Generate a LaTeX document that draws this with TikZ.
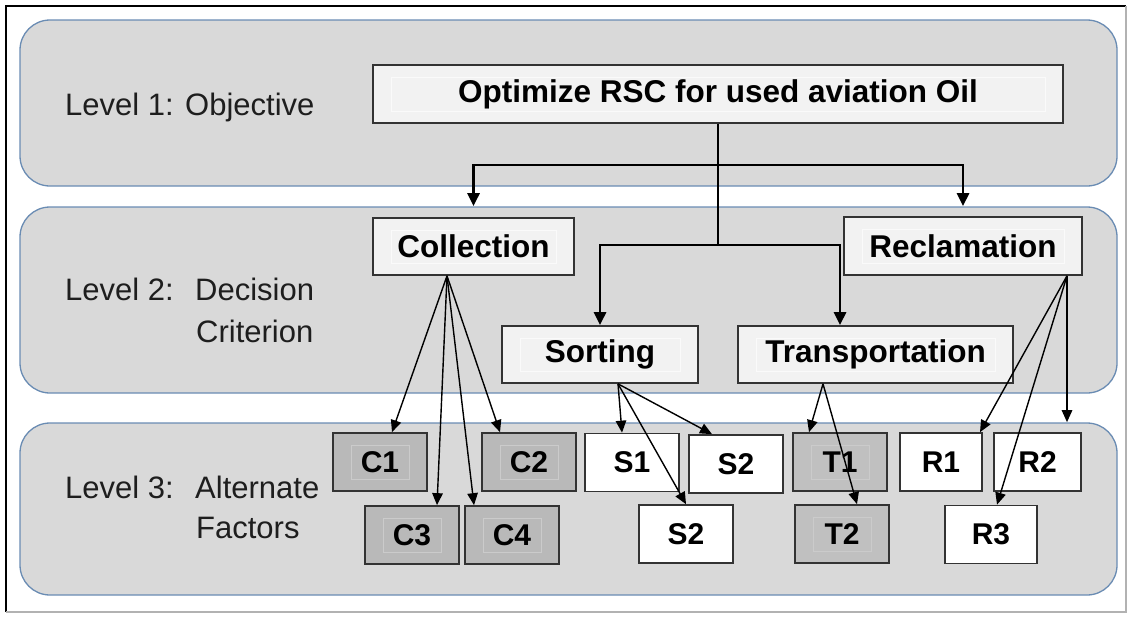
\documentclass[tikz,border=0pt]{standalone}
\usepackage{fontspec}
\setmainfont{Liberation Sans}
\usetikzlibrary{arrows.meta,calc}

\definecolor{panelfill}{HTML}{D9D9D9}
\definecolor{panelline}{HTML}{6A8CB3}
\definecolor{boxline}{HTML}{333333}
\definecolor{lightbox}{HTML}{F2F2F2}
\definecolor{lightframe}{HTML}{FAFAFA}
\definecolor{cbox}{HTML}{B9B9B9}
\definecolor{tbox}{HTML}{C0C0C0}
\definecolor{grayframe}{HTML}{CBCBCB}
\definecolor{labeltext}{HTML}{1E1E1E}

\tikzset{
  panel/.style={draw=panelline, line width=1.3pt, fill=panelfill, rounded corners=30pt},
  levellabel/.style={inner sep=0pt, anchor=base west, text=labeltext,
      font=\fontsize{31}{37}\selectfont},
  innerframe/.style={path picture={
      \draw[line width=0.8pt, #1]
        ([xshift=18pt,yshift=-12pt]path picture bounding box.north west) rectangle
        ([xshift=-18pt,yshift=12pt]path picture bounding box.south east);}},
  basebox/.style 2 args={draw=boxline, line width=1.7pt, inner sep=0pt,
      minimum width=#1, minimum height=#2},
  mainbox/.style 2 args={basebox={#1}{#2}, fill=lightbox, innerframe=lightframe,
      font=\bfseries\fontsize{31.5}{38}\selectfont},
  factorbox/.style={basebox={94pt}{58pt}, font=\bfseries\fontsize{30}{36}\selectfont},
  cfactor/.style={factorbox, fill=cbox, innerframe=grayframe},
  tfactor/.style={factorbox, fill=tbox, innerframe=grayframe},
  wfactor/.style={factorbox, fill=white},
  thickline/.style={line width=2.8pt, draw=black},
  thickarrow/.style={thickline, -{Triangle[length=13pt,width=12pt]}},
  thinarrow/.style={line width=1.4pt, draw=black, -{Triangle[length=12pt,width=10.5pt]}}
}

\begin{document}
\begin{tikzpicture}[x=1pt, y=-1pt]
  \useasboundingbox (0,0) rectangle (1129,616);

  % frame
  \draw[black, line width=1.2pt] (6,612) -- (6,6) -- (1126,6);
  \draw[gray!60, line width=1.2pt] (1126,6) -- (1126,612) -- (6,612);

  % level bands
  \draw[panel] (20,20) rectangle (1117,186);
  \draw[panel] (20,207) rectangle (1117,393);
  \draw[panel] (20,423) rectangle (1117,595);

  % level labels
  \node[levellabel] (lvl1) at (65,115) {Level 1: Objective};
  \node[levellabel] (lvl2) at (65,300) {Level 2:};
  \node[levellabel] (lvl2a) at (195,300) {Decision};
  \node[levellabel] (lvl2b) at (196,342) {Criterion};
  \node[levellabel] (lvl3) at (65,498) {Level 3:};
  \node[levellabel] (lvl3a) at (195,498) {Alternate};
  \node[levellabel] (lvl3b) at (196,538) {Factors};

  % objective and criteria
  \node[mainbox={690pt}{58pt}] (opt) at (718,94) {Optimize RSC for used aviation Oil};
  \node[mainbox={201pt}{57pt}] (coll) at (473.5,246.5) {Collection};
  \node[mainbox={238pt}{58pt}] (recl) at (963,246) {Reclamation};
  \node[mainbox={196pt}{57pt}] (sort) at (600,354.5) {Sorting};
  \node[mainbox={275pt}{57pt}] (trans) at (875.5,354.5) {Transportation};

  % alternate factors
  \node[cfactor] (c1) at (380,462) {C1};
  \node[cfactor] (c2) at (529,462) {C2};
  \node[cfactor] (c3) at (412,535) {C3};
  \node[cfactor] (c4) at (512,535) {C4};
  \node[wfactor] (s1) at (632,462.5) {S1};
  \node[wfactor] (s2a) at (736,464) {S2};
  \node[wfactor] (s2b) at (686,534) {S2};
  \node[tfactor] (t1) at (840,462) {T1};
  \node[tfactor] (t2) at (842,534) {T2};
  \node[wfactor, minimum width=82pt] (r1) at (941,462) {R1};
  \node[wfactor, minimum width=87pt] (r2) at (1037.5,462) {R2};
  \node[wfactor, minimum width=92pt] (r3) at (991,534.5) {R3};

  % objective to criteria
  \coordinate (b1) at (718,165);
  \coordinate (b2) at (718,245);
  \draw[thickline] (opt.south) -- (b2);
  \draw[thickarrow, shorten >=11pt] (b1) -| (coll.north);
  \draw[thickarrow, shorten >=10pt] (b1) -| (recl.north);
  \draw[thickarrow] (b2) -| (sort.north);
  \draw[thickarrow] (b2) -| ([xshift=-35.5pt]trans.north);

  % criteria to factors
  \coordinate (cf) at ([xshift=-26.5pt]coll.south);
  \draw[thinarrow] (cf) -- ([xshift=12pt]c1.north);
  \draw[thinarrow] (cf) -- ([xshift=-29pt]c2.north);
  \draw[thinarrow] (cf) -- ([xshift=25pt]c3.north);
  \draw[thinarrow] (cf) -- ([xshift=-38pt]c4.north);

  \coordinate (sf) at ([xshift=18pt]sort.south);
  \draw[thinarrow] (sf) -- ([xshift=-10pt]s1.north);
  \draw[thinarrow] (sf) -- ([xshift=-24pt]s2a.north);
  \draw[thinarrow] (sf) -- (s2b.north);

  \coordinate (tf) at ([xshift=-52.5pt]trans.south);
  \draw[thinarrow] (tf) -- ([xshift=-31pt]t1.north);
  \draw[thinarrow] (tf) -- ([xshift=15pt]t2.north);

  \coordinate (rf) at ([xshift=104pt]recl.south);
  \draw[thinarrow] (rf) -- ([xshift=39pt]r1.north);
  \draw[thinarrow, shorten >=10pt] (rf) -- ([xshift=29.5pt]r2.north);
  \draw[thinarrow] (rf) -- ([xshift=6pt]r3.north);
\end{tikzpicture}
\end{document}
